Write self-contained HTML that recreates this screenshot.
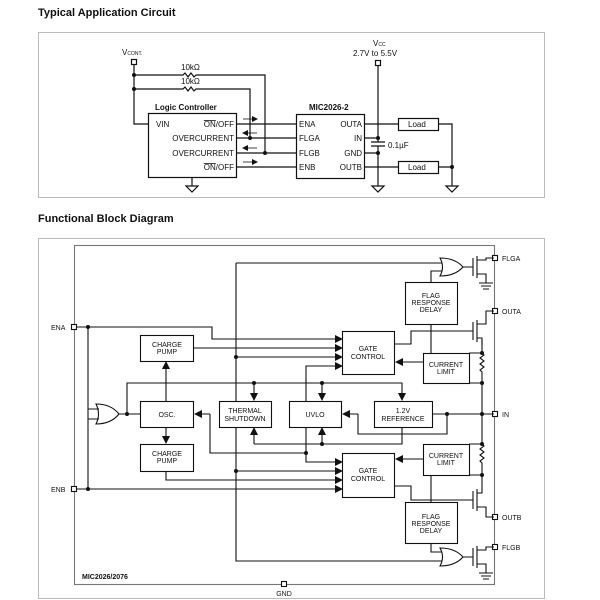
<!DOCTYPE html>
<html><head><style>
html,body{margin:0;padding:0;background:#fff;width:600px;height:600px;overflow:hidden}
svg{display:block}
text{font-family:"Liberation Sans",Arial,sans-serif;fill:#111}
.t{font-size:8px}
.b{font-size:8px}
</style></head><body>
<svg width="600" height="600" viewBox="0 0 600 600" xmlns="http://www.w3.org/2000/svg">
<defs>
<marker id="a" markerWidth="6" markerHeight="6" refX="5" refY="3" orient="auto" markerUnits="userSpaceOnUse"><path d="M0,0L6,3L0,6z" fill="#111"/></marker>
</defs>
<text x="38" y="16" style="font-size:11px;font-weight:bold">Typical Application Circuit</text>
<rect x="38.5" y="32.5" width="506" height="165" fill="none" stroke="#bbb"/>
<g stroke="#111" stroke-width="1.2" fill="none">
<rect x="131.5" y="59.5" width="5" height="5"/>
<path d="M134,64V124H148"/>
<path d="M134,75H183l2,-2l3,4l3,-4l3,4l2,-2H265V153"/>
<path d="M134,89H183l2,-2l3,4l3,-4l3,4l2,-2H250V138"/>
<rect x="148.5" y="113.5" width="88" height="64"/>
<path d="M236,124H296M236,138H296M236,153H296M236,167H296"/>
<rect x="296.5" y="114.5" width="68" height="64"/>
<path d="M192,177V186M186,186H198L192,192Z"/>
<rect x="375.5" y="60.5" width="5" height="5"/>
<path d="M378,65V142M371,142H385M371,146H385M378,146V186M372,186H384L378,192Z"/>
<path d="M364,138H378M364,153H378"/>
<path d="M364,124H398M438,124H452V186M446,186H458L452,192Z"/>
<path d="M364,167H398M438,167H452"/>
<rect x="398.5" y="118.5" width="40" height="12"/>
<rect x="398.5" y="161.5" width="40" height="12"/>
</g>
<g stroke="#111" stroke-width="0.8">
<path d="M243,119H257" marker-end="url(#a)"/><path d="M257,133H243" marker-end="url(#a)"/>
<path d="M257,148H243" marker-end="url(#a)"/><path d="M243,162H257" marker-end="url(#a)"/>
</g>
<g fill="#111">
<circle cx="134" cy="75" r="2"/><circle cx="134" cy="89" r="2"/>
<circle cx="250" cy="138" r="2"/><circle cx="265" cy="153" r="2"/>
<circle cx="378" cy="138" r="2"/><circle cx="378" cy="153" r="2"/><circle cx="452" cy="167" r="2"/>
</g>
<text class="t" x="122" y="55">V<tspan style="font-size:5px">CONT.</tspan></text>
<text class="t" x="181" y="70">10kΩ</text><text class="t" x="181" y="84">10kΩ</text>
<text class="b" x="155" y="110" style="font-weight:bold">Logic Controller</text>
<text class="b" x="309" y="110" style="font-weight:bold">MIC2026-2</text>
<text class="t" x="156" y="127">VIN</text>
<text class="t" x="234" y="127" text-anchor="end"><tspan text-decoration="overline">ON</tspan>/OFF</text>
<text class="t" x="234" y="141" text-anchor="end">OVERCURRENT</text>
<text class="t" x="234" y="156" text-anchor="end">OVERCURRENT</text>
<text class="t" x="234" y="170" text-anchor="end"><tspan text-decoration="overline">ON</tspan>/OFF</text>
<text class="t" x="299" y="127">ENA</text><text class="t" x="299" y="141">FLGA</text>
<text class="t" x="299" y="156">FLGB</text><text class="t" x="299" y="170">ENB</text>
<text class="t" x="362" y="127" text-anchor="end">OUTA</text><text class="t" x="362" y="141" text-anchor="end">IN</text>
<text class="t" x="362" y="156" text-anchor="end">GND</text><text class="t" x="362" y="170" text-anchor="end">OUTB</text>
<text class="t" x="373" y="46">V<tspan style="font-size:5px">CC</tspan></text>
<text class="t" x="353" y="56">2.7V to 5.5V</text>
<text class="t" x="388" y="148">0.1µF</text>
<text class="t" x="408" y="127">Load</text><text class="t" x="408" y="170">Load</text>

<text x="38" y="222" style="font-size:11px;font-weight:bold">Functional Block Diagram</text>
<rect x="38.5" y="238.5" width="506" height="360" fill="none" stroke="#bbb"/>
<g stroke="#111" stroke-width="1.1" fill="none">
<rect x="74.5" y="245.5" width="420" height="339" stroke="#777"/>
<rect x="405.5" y="282.5" width="52" height="42"/>
<rect x="342.5" y="331.5" width="52" height="43"/>
<rect x="423.5" y="353.5" width="46" height="30"/>
<rect x="140.5" y="335.5" width="53" height="26"/>
<rect x="140.5" y="401.5" width="53" height="26"/>
<rect x="219.5" y="401.5" width="52" height="26"/>
<rect x="289.5" y="401.5" width="52" height="26"/>
<rect x="374.5" y="401.5" width="58" height="26"/>
<rect x="140.5" y="444.5" width="53" height="27"/>
<rect x="342.5" y="453.5" width="52" height="44"/>
<rect x="423.5" y="444.5" width="46" height="31"/>
<rect x="405.5" y="502.5" width="52" height="41"/>
<rect x="71.5" y="324.5" width="5" height="5" fill="#fff"/>
<rect x="71.5" y="486.5" width="5" height="5" fill="#fff"/>
<rect x="492.5" y="255.5" width="5" height="5" fill="#fff"/>
<rect x="492.5" y="308.5" width="5" height="5" fill="#fff"/>
<rect x="492.5" y="411.5" width="5" height="5" fill="#fff"/>
<rect x="492.5" y="514.5" width="5" height="5" fill="#fff"/>
<rect x="492.5" y="544.5" width="5" height="5" fill="#fff"/>
<rect x="281.5" y="581.5" width="5" height="5" fill="#fff"/>
<path d="M77,327H212V339H336"/>
<path d="M77,489H336"/>
<path d="M88,327V489"/>
<path d="M88,409H99M88,419H99"/>
<path d="M96,404Q111,404 119,414Q111,424 96,424Q101,414 96,404Z"/>
<path d="M440,258Q455,258 463,267Q455,276 440,276Q445,267 440,258Z"/>
<path d="M440,548Q455,548 463,557Q455,566 440,566Q445,557 440,548Z"/>
<path d="M119,414H140M127,414V383H402V396"/>
<path d="M166,401V367M166,428V438"/>
<path d="M193,348H336M236,357H336"/>
<path d="M236,263H442M236,263V401M236,427V561H442"/>
<path d="M254,383V396M322,383V396M254,444V433M322,444V433M254,444H402V427"/>
<path d="M306,401V366H336M306,427V462H336"/>
<path d="M210,414H199M210,414V453H306"/>
<path d="M166,471V480H336"/>
<path d="M236,471H336"/>
<path d="M423,362H401M423,459H401"/>
<path d="M432,414H494M358,414H347M358,414V434H447V414"/>
<path d="M431,282V271H442M431,324V353M431,475V502M431,543V552H442"/>
<path d="M394,344H411V331H473"/>
<path d="M394,486H411V500H473"/>
<path d="M463,267H473M463,557H473"/>
<path d="M473,258V276M477,256V278M477,260H486V258H494M477,274H486V283M479,283H493M481,286H491M483,289H489"/>
<path d="M473,322V340M477,320V342M477,324H486V311H494M477,338H482V345"/>
<path d="M473,491V509M477,489V511M477,493H482V486M477,507H486V517H494"/>
<path d="M473,548V566M477,546V568M477,550H486V547H494M477,564H486V573M479,573H493M481,576H491M483,579H489"/>
<path d="M482,340V353M469,353H482M482,353l2,2l-4,3l4,3l-4,3l4,3l-4,3l2,2V383H469M482,383V444M469,444H482l2,2l-4,3l4,3l-4,3l4,3l-4,3l2,2V475H469M482,475V486"/>
</g>
<g fill="#111">
<path d="M335,335L343,339L335,343ZM335,344L343,348L335,352ZM335,353L343,357L335,361ZM335,362L343,366L335,370Z"/>
<path d="M335,458L343,462L335,466ZM335,467L343,471L335,475ZM335,476L343,480L335,484ZM335,485L343,489L335,493Z"/>
<path d="M403,358L395,362L403,366ZM403,455L395,459L403,463Z"/>
<path d="M162,369L166,361L170,369ZM162,436L166,444L170,436Z"/>
<path d="M250,393L254,401L258,393ZM318,393L322,401L326,393ZM398,393L402,401L406,393Z"/>
<path d="M250,435L254,427L258,435ZM318,435L322,427L326,435Z"/>
<path d="M202,410L194,414L202,418ZM350,410L342,414L350,418Z"/>
<circle cx="88" cy="327" r="2"/><circle cx="88" cy="489" r="2"/>
<circle cx="127" cy="414" r="2"/><circle cx="236" cy="357" r="2"/><circle cx="236" cy="471" r="2"/>
<circle cx="254" cy="383" r="2"/><circle cx="322" cy="383" r="2"/><circle cx="322" cy="444" r="2"/>
<circle cx="306" cy="453" r="2"/><circle cx="447" cy="414" r="2"/><circle cx="482" cy="414" r="2"/>
<circle cx="482" cy="353" r="2"/><circle cx="482" cy="383" r="2"/><circle cx="482" cy="444" r="2"/><circle cx="482" cy="475" r="2"/>
</g>
<g class="t" text-anchor="middle" style="font-size:7px">
<text x="431" y="298">FLAG</text><text x="431" y="305">RESPONSE</text><text x="431" y="312">DELAY</text>
<text x="368" y="351">GATE</text><text x="368" y="359">CONTROL</text>
<text x="446" y="367">CURRENT</text><text x="446" y="374">LIMIT</text>
<text x="167" y="347">CHARGE</text><text x="167" y="354">PUMP</text>
<text x="167" y="417">OSC.</text>
<text x="245" y="413">THERMAL</text><text x="245" y="421">SHUTDOWN</text>
<text x="315" y="417">UVLO</text>
<text x="403" y="413">1.2V</text><text x="403" y="421">REFERENCE</text>
<text x="167" y="456">CHARGE</text><text x="167" y="463">PUMP</text>
<text x="368" y="473">GATE</text><text x="368" y="481">CONTROL</text>
<text x="446" y="458">CURRENT</text><text x="446" y="465">LIMIT</text>
<text x="431" y="519">FLAG</text><text x="431" y="526">RESPONSE</text><text x="431" y="533">DELAY</text>
<text x="284" y="596">GND</text>
</g>
<g class="t" style="font-size:7px">
<text x="51" y="330">ENA</text><text x="51" y="492">ENB</text>
<text x="502" y="261">FLGA</text><text x="502" y="314">OUTA</text><text x="502" y="417">IN</text>
<text x="502" y="520">OUTB</text><text x="502" y="550">FLGB</text>
<text x="82" y="579" style="font-weight:bold">MIC2026/2076</text>
</g>
</svg>
</body></html>
